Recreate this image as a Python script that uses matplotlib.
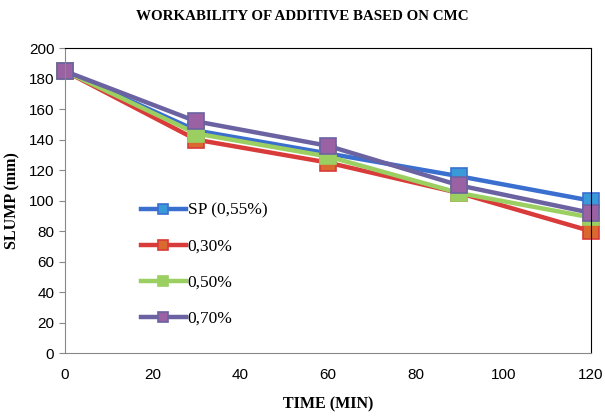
"""Workability of additive based on CMC - slump vs time."""
import matplotlib
matplotlib.use('Agg')
from matplotlib import pyplot as plt

# Data
time_min = [0, 30, 60, 90, 120]
slump_sp = [185, 146, 131, 116, 100]
slump_030 = [185, 140, 125, 105, 80]
slump_050 = [185, 144, 129, 105, 89]
slump_070 = [185, 152, 136, 110, 92]

series = [
    ('SP (0,55%)', slump_sp, '#3A6FD0', '#3A9AD8'),
    ('0,30%', slump_030, '#D93A3A', '#D9692F'),
    ('0,50%', slump_050, '#9BCF62', '#9BCF62'),
    ('0,70%', slump_070, '#6B62A2', '#9A62A2'),
]

fig = plt.figure(figsize=(6.05, 4.19), dpi=100)
ax = fig.add_axes([0.107, 0.157, 0.87, 0.728])

for label, vals, line_c, mark_c in series:
    ax.plot(time_min, vals, color=line_c, lw=3.2, marker='s', ms=12,
            markerfacecolor=mark_c, markeredgecolor=line_c, markeredgewidth=1.2,
            label=label, clip_on=False)

ax.set_xlim(0, 120)
ax.set_ylim(0, 200)
ax.set_xticks(range(0, 121, 20))
ax.set_yticks(range(0, 201, 20))
ax.tick_params(axis='x', length=0, pad=11, labelsize=11)
ax.tick_params(axis='y', length=4, color='#888888', labelsize=11)
for lab in ax.get_xticklabels() + ax.get_yticklabels():
    lab.set_family('Liberation Sans')

for side in ['left', 'bottom']:
    ax.spines[side].set_color('#888888')
for side in ['top', 'right']:
    ax.spines[side].set_color('black')

fig.suptitle('WORKABILITY OF ADDITIVE BASED ON CMC', family='Liberation Serif',
             fontweight='bold', fontsize=10.8, x=0.5, y=0.975)
ax.set_xlabel('TIME (MIN)', family='Liberation Serif', fontweight='bold',
              fontsize=11.5, labelpad=10)
ax.set_ylabel('SLUMP (mm)', family='Liberation Serif', fontweight='bold',
              fontsize=11.5, labelpad=6)

leg = ax.legend(loc='center left', bbox_to_anchor=(0.115, 0.29), frameon=False,
                prop={'family': 'Liberation Serif', 'size': 12.5},
                handlelength=2.6, labelspacing=1.15, handletextpad=0.1, markerscale=0.6)

fig.savefig('out.png', dpi=100)
